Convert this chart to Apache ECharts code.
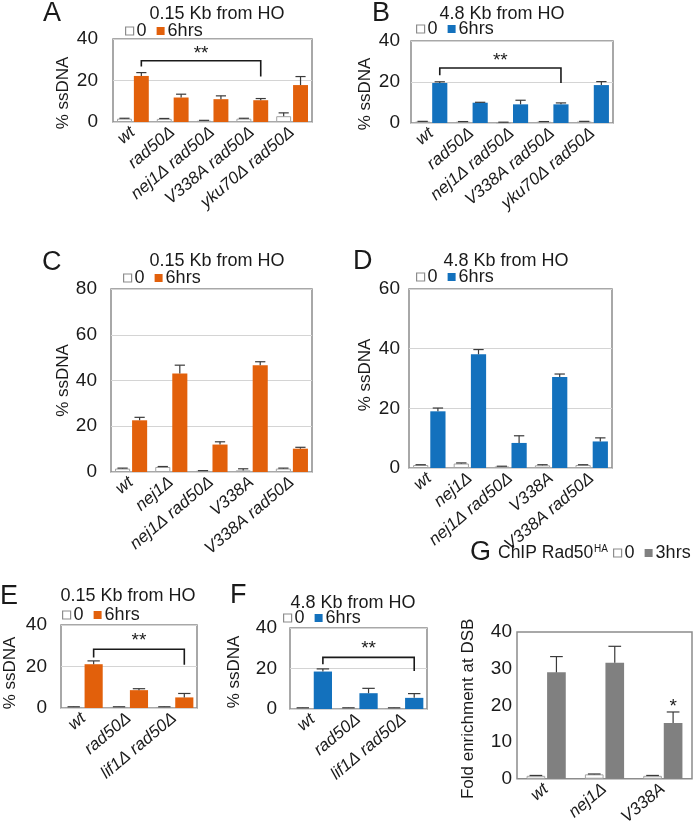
<!DOCTYPE html>
<html><head><meta charset="utf-8">
<script src="https://cdn.jsdelivr.net/npm/echarts@6/dist/echarts.min.js"></script>
<style>html,body{margin:0;padding:0;background:#fff}#c{width:693px;height:828px}</style>
</head><body><div id="c"></div>
<script>
// ---------------- data ----------------
const catsA = ['wt', 'rad50Δ', 'nej1Δ rad50Δ', 'V338A rad50Δ', 'yku70Δ rad50Δ'];
const a0 = [1.6, 1.5, 0.6, 1.6, 2.8];
const a0Err = [0.2, 0.2, 0.2, 0.2, 1.6];
const a6 = [22.2, 11.8, 11.0, 10.5, 17.8];
const a6Err = [1.6, 1.6, 1.6, 0.8, 4.1];
const bracketA = [0, 3, 26.7, 29.5, 21.9, 32.8];

const catsB = ['wt', 'rad50Δ', 'nej1Δ rad50Δ', 'V338A rad50Δ', 'yku70Δ rad50Δ'];
const b0 = [0.7, 0.6, 0.3, 0.6, 0.7];
const b0Err = [0.1, 0.1, 0.1, 0.1, 0.1];
const b6 = [19.5, 9.9, 9.1, 9.1, 18.5];
const b6Err = [0.6, 0.2, 2.0, 0.7, 1.7];
const bracketB = [0, 3, 23.3, 26.8, 19.5, 30.2];

const catsC = ['wt', 'nej1Δ', 'nej1Δ rad50Δ', 'V338A', 'V338A rad50Δ'];
const c0 = [1.5, 2.2, 0.5, 0.7, 1.5];
const c0Err = [0.2, 0.2, 0.1, 0.7, 0.2];
const c6 = [22.6, 43.1, 12.0, 46.7, 10.2];
const c6Err = [1.3, 3.6, 1.2, 1.5, 0.6];

const catsD = ['wt', 'nej1Δ', 'nej1Δ rad50Δ', 'V338A', 'V338A rad50Δ'];
const d0 = [1.0, 1.5, 0.5, 0.9, 1.0];
const d0Err = [0.1, 0.2, 0.1, 0.2, 0.1];
const d6 = [19.0, 38.1, 8.4, 30.5, 8.9];
const d6Err = [1.1, 1.6, 2.4, 1.0, 1.2];

const catsE = ['wt', 'rad50Δ', 'lif1Δ rad50Δ'];
const e0 = [0.5, 0.5, 0.5];
const e0Err = [0.1, 0.1, 0.1];
const e6 = [21.1, 8.6, 5.1];
const e6Err = [1.6, 0.7, 1.9];
const bracketE = [0, 2, 24.3, 28.3, 20.8, 32.3];

const catsF = ['wt', 'rad50Δ', 'lif1Δ rad50Δ'];
const f0 = [0.5, 0.5, 0.5];
const f0Err = [0.1, 0.1, 0.1];
const f6 = [18.5, 7.8, 5.5];
const f6Err = [1.3, 2.4, 2.1];
const bracketF = [0, 2, 22.1, 25.5, 18.8, 29.6];

const catsG = ['wt', 'nej1Δ', 'V338A'];
const g0 = [0.8, 1.2, 0.8];
const g0Err = [0.1, 0.1, 0.1];
const g3 = [29.0, 31.6, 15.2];
const g3Err = [4.3, 4.5, 3.0];
const starG = [2, 19.6];
// -------------------------------------

const FONT = '"Liberation Sans", Arial, Helvetica, sans-serif';
const TXT = '#1a1a1a';
const ORANGE = '#E2600B', BLUE = '#1371BD', GRAY = '#808080';

const panels = [
  {id:'A', cats:catsA, v0:a0, e0:a0Err, v1:a6, e1:a6Err, s1:'6hrs', color:ORANGE, max:40, step:20, split:true,
   bracket:bracketA, sig:'**', yName:'% ssDNA', title:'0.15 Kb from HO',
   L:{grid:[113,39,199,83], bw:0.375, gap:0.13, lm:15, ng:41, np:[0,25,0,0], leg:[125,31], tt:[217,14], let:[43,14]}},
  {id:'B', cats:catsB, v0:b0, e0:b0Err, v1:b6, e1:b6Err, s1:'6hrs', color:BLUE, max:40, step:20, split:true,
   bracket:bracketB, sig:'**', yName:'% ssDNA', title:'4.8 Kb from HO',
   L:{grid:[411,41,202,82], bw:0.375, gap:0.13, lm:11, ng:37, np:[0,24,0,0], leg:[416,29], tt:[502,14], let:[372,14]}},
  {id:'C', cats:catsC, v0:c0, e0:c0Err, v1:c6, e1:c6Err, s1:'6hrs', color:ORANGE, max:80, step:20, split:true,
   yName:'% ssDNA', title:'0.15 Kb from HO',
   L:{grid:[111,289,201,183], bw:0.375, gap:0.13, lm:14, ng:39, np:[0,0,0,0], leg:[123,278], tt:[217,261], let:[42,263]}},
  {id:'D', cats:catsD, v0:d0, e0:d0Err, v1:d6, e1:d6Err, s1:'6hrs', color:BLUE, max:60, step:20, split:true,
   yName:'% ssDNA', title:'4.8 Kb from HO',
   L:{grid:[409,289,203,179], bw:0.375, gap:0.13, lm:9, ng:35, np:[0,0,0,7], leg:[416,277], tt:[506,261], let:[353,262]}},
  {id:'E', cats:catsE, v0:e0, e0:e0Err, v1:e6, e1:e6Err, s1:'6hrs', color:ORANGE, max:40, step:20, split:true,
   bracket:bracketE, sig:'**', yName:'% ssDNA', title:'0.15 Kb from HO',
   L:{grid:[61,625,136,83], bw:0.40, gap:0.1, lm:14, ng:42, np:[0,13,0,0], leg:[62,615], tt:[128,596], let:[0,597]}},
  {id:'F', cats:catsF, v0:f0, e0:f0Err, v1:f6, e1:f6Err, s1:'6hrs', color:BLUE, max:40, step:20, split:true,
   bracket:bracketF, sig:'**', yName:'% ssDNA', title:'4.8 Kb from HO',
   L:{grid:[290,628,137,81], bw:0.40, gap:0.1, lm:13, ng:47, np:[0,7,0,0], leg:[283,618], tt:[353,603], let:[230,596]}},
  {id:'G', cats:catsG, v0:g0, e0:g0Err, v1:g3, e1:g3Err, s1:'3hrs', color:GRAY, max:40, step:10, split:false,
   star:starG, yName:'Fold enrichment at DSB', title:null,
   L:{grid:[517,632,175,155], bw:0.32, gap:0.1, lm:5, ng:40, np:[0,7,0,0], leg:[613,553], tt:null, let:[470,553]}}
];

function errRender(bw, gap, side) {
  return function (params, api) {
    const idx = api.value(0), v = api.value(1), e = api.value(2);
    const band = api.size([1, 0])[0];
    const w = band * bw;
    const off = side * (w + w * gap) / 2;
    const base = api.coord([idx, v]);
    const top = api.coord([idx, v + e]);
    const x = base[0] + off;
    const cap = w * 0.34;
    const st = {stroke: '#3a3a3a', lineWidth: 1.2};
    return {type: 'group', children: [
      {type: 'line', shape: {x1: x, y1: base[1], x2: x, y2: top[1]}, style: st},
      {type: 'line', shape: {x1: x - cap, y1: top[1], x2: x + cap, y2: top[1]}, style: st}
    ]};
  };
}
function bracketRender(bw, gap, label) {
  return function (params, api) {
    const i0 = api.value(0), i1 = api.value(1);
    const band = api.size([1, 0])[0];
    const w = band * bw;
    const off = (w + w * gap) / 2;
    const pL = api.coord([i0, api.value(3)]), pR = api.coord([i1, api.value(3)]);
    const xl = pL[0] + off, xr = pR[0] + off;
    const yL = api.coord([i0, api.value(2)])[1], yR = api.coord([i1, api.value(4)])[1];
    const ys = api.coord([i0, api.value(5)])[1];
    return {type: 'group', children: [
      {type: 'polyline', shape: {points: [[xl, yL], [xl, pL[1]], [xr, pR[1]], [xr, yR]]},
       style: {stroke: '#1a1a1a', lineWidth: 1.6, fill: null}},
      {type: 'text', x: (xl + xr) / 2, y: ys,
       style: {text: label, fontSize: 19, fontFamily: FONT, fill: TXT, align: 'center', verticalAlign: 'middle'}}
    ]};
  };
}
function starRender(bw, gap, label) {
  return function (params, api) {
    const band = api.size([1, 0])[0];
    const w = band * bw;
    const off = (w + w * gap) / 2;
    const p = api.coord([api.value(0), api.value(1)]);
    return {type: 'text', x: p[0] + off, y: p[1],
      style: {text: label, fontSize: 19, fontFamily: FONT, fill: TXT, align: 'center', verticalAlign: 'middle'}};
  };
}

const option = {animation: false, grid: [], xAxis: [], yAxis: [], series: [], legend: [], graphic: []};

panels.forEach((p, i) => {
  const L = p.L;
  option.grid.push({left: L.grid[0], top: L.grid[1], width: L.grid[2], height: L.grid[3],
    show: true, borderColor: '#8c8c8c', borderWidth: 1.5, backgroundColor: 'transparent'});
  option.xAxis.push({type: 'category', gridIndex: i, data: p.cats,
    axisLine: {show: false}, axisTick: {show: false},
    axisLabel: {rotate: 40, interval: 0, fontStyle: 'italic', fontSize: 17, fontFamily: FONT, color: TXT, margin: 8}});
  option.yAxis.push({type: 'value', gridIndex: i, min: 0, max: p.max, interval: p.step,
    axisLine: {show: false}, axisTick: {show: false},
    splitLine: {show: p.split, lineStyle: {color: '#d4d4d4', width: 1}},
    axisLabel: {fontSize: 19, fontFamily: FONT, color: TXT, margin: L.lm},
    name: p.yName, nameLocation: 'middle', nameRotate: 90, nameGap: L.ng,
    nameTextStyle: {fontSize: 17, fontFamily: FONT, color: TXT, padding: L.np}});
  const n0 = p.id + '|0', n1 = p.id + '|' + p.s1;
  const bwS = (L.bw * 100) + '%', gapS = (L.gap * 100) + '%';
  option.series.push({type: 'bar', name: n0, xAxisIndex: i, yAxisIndex: i, data: p.v0,
    barWidth: bwS, barGap: gapS, itemStyle: {color: '#ffffff', borderColor: '#a3a3a3', borderWidth: 1}});
  option.series.push({type: 'bar', name: n1, xAxisIndex: i, yAxisIndex: i, data: p.v1,
    barWidth: bwS, barGap: gapS, itemStyle: {color: p.color}});
  option.series.push({type: 'custom', name: p.id + ' err0', xAxisIndex: i, yAxisIndex: i, z: 5,
    renderItem: errRender(L.bw, L.gap, -1), encode: {x: 0, y: 1},
    data: p.cats.map((c, k) => [k, p.v0[k], p.e0[k]])});
  option.series.push({type: 'custom', name: p.id + ' err1', xAxisIndex: i, yAxisIndex: i, z: 5,
    renderItem: errRender(L.bw, L.gap, 1), encode: {x: 0, y: 1},
    data: p.cats.map((c, k) => [k, p.v1[k], p.e1[k]])});
  if (p.bracket) {
    option.series.push({type: 'custom', name: p.id + ' sig', xAxisIndex: i, yAxisIndex: i, z: 6,
      renderItem: bracketRender(L.bw, L.gap, p.sig), encode: {x: [0, 1], y: [2, 3, 4]},
      data: [p.bracket]});
  }
  if (p.star) {
    option.series.push({type: 'custom', name: p.id + ' star', xAxisIndex: i, yAxisIndex: i, z: 6,
      renderItem: starRender(L.bw, L.gap, '*'), encode: {x: 0, y: 1}, data: [p.star]});
  }
  option.legend.push({left: L.leg[0], top: L.leg[1] - 9, padding: 0, itemGap: 10,
    itemWidth: 8, itemHeight: 8, icon: 'rect', selectedMode: false,
    formatter: nm => nm.split('|')[1],
    textStyle: {fontSize: 18, fontFamily: FONT, color: TXT, lineHeight: 18, padding: [0, 0, 0, -2]},
    data: [{name: n0, itemStyle: {color: '#ffffff', borderColor: '#8c8c8c', borderWidth: 1.2}},
           {name: n1, itemStyle: {color: p.color}}]});
  option.graphic.push({type: 'text', x: L.let[0], y: L.let[1],
    style: {text: p.id, fontSize: 27, fontFamily: FONT, fill: TXT, align: 'left', verticalAlign: 'middle'}});
  if (p.title) {
    option.graphic.push({type: 'text', x: L.tt[0], y: L.tt[1],
      style: {text: p.title, fontSize: 18, fontFamily: FONT, fill: TXT, align: 'center', verticalAlign: 'middle'}});
  }
});
option.graphic.push({type: 'text', x: 498, y: 553,
  style: {text: 'ChIP Rad50', fontSize: 17.5, fontFamily: FONT, fill: TXT, align: 'left', verticalAlign: 'middle'}});
option.graphic.push({type: 'text', x: 594, y: 549,
  style: {text: 'HA', fontSize: 10, fontFamily: FONT, fill: TXT, align: 'left', verticalAlign: 'middle'}});

const chart = echarts.init(document.getElementById('c'), null, {renderer: 'canvas'});
chart.setOption(option);
</script></body></html>
